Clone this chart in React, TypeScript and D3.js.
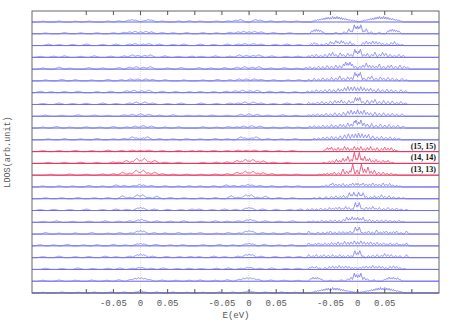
import React from 'react';
import * as d3 from 'd3';

const width = 460;
const height = 322;
const margin = { left: 32, right: 21, top: 11, bottom: 29 };

// three energy windows laid side by side, each centred on E = 0
const panelCentres = [0, 0.2, 0.4];
const panelRanges = [[-200, 100], [-100, 100], [-100, 150]]; // meV
const peakHalfWidth = [10, 10, 4.5]; // meV
const tickValues = [-0.05, 0, 0.05];
const tickLabels = ['-0.05', '0', '0.05'];

const highlightRows = [11, 12, 13];
const highlightLabels = ['(15, 15)', '(14, 14)', '(13, 13)'];

// peaks per row (top row first): [E in meV, LDOS]
const panel1Peaks = [
  [[-180, 0.8], [-150, 1], [-120, 0.8], [-95, 1], [-60, 1], [-40, 1.2], [-22, 2], [-16, 2.5], [-10, 2], [8, 1.5], [14, 2.5], [20, 2], [40, 1], [70, 1], [90, 1.2]],
  [[-175, 0.8], [-140, 1.2], [-110, 1], [-80, 1], [-50, 1], [-30, 1.5], [-20, 2], [-10, 2.5], [0, 2], [10, 2.5], [20, 2], [40, 1.2], [60, 1], [85, 1.2]],
  [[-170, 1.5], [-150, 1], [-125, 1.2], [-100, 1.5], [-70, 1.2], [-45, 1.5], [-20, 1.5], [-10, 2], [5, 1.5], [15, 2], [35, 1.5], [60, 1.2], [80, 1.5]],
  [[-185, 1], [-160, 1.2], [-140, 1.5], [-110, 1], [-85, 1.5], [-55, 1.2], [-30, 1.5], [-15, 2.5], [-5, 2], [8, 2], [18, 2.5], [45, 1.5], [70, 1], [95, 1.2]],
  [[-180, 1.2], [-150, 2], [-130, 1], [-95, 1.5], [-70, 1.2], [-40, 1.5], [-20, 2], [-8, 2.5], [6, 2], [18, 2.5], [50, 1.2], [75, 1.5]],
  [[-175, 1], [-145, 1.5], [-120, 1.2], [-90, 1], [-60, 1.5], [-35, 1.2], [-18, 2], [-5, 2], [10, 2], [22, 1.5], [45, 1.2], [80, 1]],
  [[-185, 1.5], [-165, 1], [-140, 1.2], [-115, 1.5], [-80, 1], [-55, 1.5], [-25, 2], [-12, 2.5], [2, 2], [15, 2.5], [40, 1.5], [65, 1.2], [90, 1]],
  [[-180, 1], [-150, 1.5], [-125, 1], [-100, 1.2], [-70, 1.5], [-45, 1], [-20, 1.5], [-8, 2.5], [8, 2.5], [22, 1.5], [50, 1], [75, 1.5]],
  [[-175, 1.2], [-145, 1], [-115, 1.5], [-85, 1.2], [-60, 1], [-30, 1.5], [-15, 2], [0, 2.5], [15, 2], [35, 1.2], [60, 1.5], [88, 1]],
  [[-180, 1], [-155, 1.5], [-130, 1], [-100, 1.2], [-75, 1], [-50, 1.5], [-25, 1.2], [-10, 2], [5, 2.5], [20, 2], [45, 1], [70, 1.2]],
  [[-170, 1], [-140, 1.2], [-110, 1], [-80, 1.5], [-50, 1], [-30, 1.5], [-15, 3], [-8, 2], [5, 2], [13, 3], [35, 1.2], [60, 1], [85, 1.2]],
  [[-180, 1], [-150, 1], [-120, 1.2], [-90, 1], [-60, 1.5], [-35, 1.2], [-15, 1.5], [0, 1.2], [15, 1.5], [40, 1], [70, 1.2], [95, 1]],
  [[-170, 1], [-140, 1], [-110, 1.2], [-80, 1], [-50, 1.5], [-40, 1.2], [-26, 3], [-15, 2], [-7, 5], [0, 3], [7, 5], [15, 2], [26, 3], [45, 1.2], [70, 1]],
  [[-165, 1], [-130, 1.2], [-100, 1], [-70, 1.2], [-50, 1.5], [-33, 3], [-20, 2], [-8, 5], [-1, 3], [5, 5], [14, 2.5], [26, 3], [40, 1.5], [60, 1], [85, 1]],
  [[-180, 1], [-150, 1.2], [-125, 1], [-95, 1.5], [-70, 1], [-45, 2], [-30, 1.5], [-12, 1.5], [-2, 2.5], [5, 2], [20, 1.5], [45, 1.2], [70, 1], [90, 1.2]],
  [[-175, 1], [-145, 1], [-115, 1.2], [-85, 1], [-60, 1.2], [-33, 3], [-20, 1.5], [-6, 4], [-1, 3], [4, 4], [15, 1.5], [30, 2.5], [55, 1.2], [80, 1]],
  [[-185, 1], [-160, 1.2], [-130, 1], [-100, 1.5], [-70, 1], [-45, 1.5], [-25, 1.2], [-5, 2.5], [0, 3], [5, 2.5], [25, 1.5], [50, 1.2], [75, 1], [95, 1.5]],
  [[-180, 1], [-155, 1.5], [-125, 1], [-95, 1.2], [-65, 1.5], [-40, 1.2], [-20, 1.5], [-4, 2.5], [2, 3], [8, 2], [30, 1.5], [55, 1.2], [80, 1.5]],
  [[-175, 1.5], [-150, 1], [-120, 1.2], [-90, 1.5], [-60, 1], [-38, 1.5], [-18, 1.2], [-6, 3], [0, 3.5], [6, 3], [25, 1.5], [45, 1.2], [70, 1.5], [92, 1]],
  [[-185, 1.2], [-160, 1], [-135, 1.5], [-105, 1], [-80, 1.2], [-50, 1.5], [-28, 1], [-6, 2], [0, 2.5], [6, 2], [28, 1.5], [55, 1], [78, 1.2]],
  [[-180, 1], [-150, 1.5], [-120, 1], [-95, 1.2], [-65, 1.5], [-45, 1], [-20, 1.5], [-6, 3], [0, 3.5], [6, 3], [22, 1.5], [48, 1.2], [72, 1], [92, 1.2]],
  [[-175, 1.2], [-145, 1], [-115, 1.5], [-88, 1], [-60, 1.2], [-38, 1.5], [-15, 1.2], [-3, 2], [3, 2], [20, 1.2], [42, 1.5], [68, 1], [90, 1.2]],
  [[-180, 1], [-150, 1.2], [-120, 1], [-90, 1.2], [-62, 1], [-40, 1.5], [-18, 2], [-10, 3], [-4, 3.5], [2, 3.5], [8, 3], [16, 2], [40, 1.2], [65, 1], [90, 1]],
  [[-180, 0.8], [-145, 1], [-115, 0.8], [-85, 1], [-55, 1], [-30, 1], [-8, 1], [0, 2.5], [8, 1], [30, 1], [60, 1], [85, 0.8]],
];

const panel2Peaks = [
  [[-90, 1], [-60, 1], [-38, 1.2], [-24, 2], [-16, 2.5], [12, 2.5], [20, 2], [40, 1.2], [65, 1], [88, 1]],
  [[-85, 1.2], [-60, 1], [-35, 1.5], [-20, 2], [-10, 2.5], [0, 2], [10, 2.5], [22, 2], [45, 1.2], [75, 1]],
  [[-90, 1.5], [-65, 1.2], [-40, 1.5], [-20, 1.5], [-8, 2], [8, 2], [22, 1.5], [48, 1.2], [70, 1.5], [92, 1]],
  [[-88, 1], [-62, 1.5], [-35, 1.2], [-18, 2.5], [-5, 2], [8, 2], [18, 2.5], [42, 1.5], [68, 1], [90, 1.2]],
  [[-92, 1.5], [-70, 1.2], [-45, 1.5], [-22, 2], [-8, 2.5], [6, 2], [18, 2.5], [40, 1.2], [65, 1.5], [88, 1]],
  [[-85, 1], [-58, 1.5], [-35, 1.2], [-18, 2], [-5, 2], [10, 2], [22, 1.5], [45, 1.2], [72, 1], [92, 1.2]],
  [[-90, 1.2], [-65, 1], [-42, 1.5], [-25, 2], [-12, 2.5], [2, 2], [15, 2.5], [38, 1.5], [60, 1.2], [85, 1]],
  [[-88, 1.5], [-60, 1], [-35, 1.5], [-20, 1.5], [-8, 2.5], [8, 2.5], [22, 1.5], [45, 1], [70, 1.5], [92, 1]],
  [[-92, 1], [-68, 1.2], [-40, 1], [-15, 2], [0, 2.5], [15, 2], [35, 1.2], [62, 1.5], [86, 1]],
  [[-85, 1.2], [-60, 1], [-38, 1.5], [-22, 1.2], [-10, 2], [5, 2.5], [20, 2], [45, 1], [70, 1.2], [90, 1]],
  [[-90, 1], [-62, 1.2], [-40, 1], [-15, 3], [-8, 2], [5, 2], [13, 3], [35, 1.2], [60, 1], [85, 1.2]],
  [[-90, 1], [-65, 1.2], [-40, 1], [-20, 1.5], [-5, 1.2], [10, 1.5], [30, 1.2], [55, 1], [80, 1.2]],
  [[-85, 1], [-60, 1.2], [-40, 1.5], [-22, 3], [-14, 2], [-7, 4], [0, 2.5], [7, 4], [16, 2], [26, 2.5], [45, 1.2], [70, 1]],
  [[-88, 1], [-62, 1.2], [-40, 1.5], [-22, 3], [-14, 2], [-7, 4], [0, 2.5], [7, 4], [16, 2], [26, 2.5], [42, 1.5], [65, 1], [88, 1]],
  [[-90, 1], [-65, 1.2], [-42, 2], [-28, 1.5], [-12, 1.5], [-2, 2.5], [5, 2], [20, 1.5], [42, 1.2], [68, 1], [90, 1.2]],
  [[-88, 1], [-62, 1.2], [-33, 3], [-20, 1.5], [-6, 4], [-1, 3], [4, 4], [15, 1.5], [30, 2.5], [55, 1.2], [80, 1]],
  [[-92, 1.5], [-68, 1], [-45, 1.5], [-25, 1.2], [-5, 2.5], [0, 3], [5, 2.5], [25, 1.5], [50, 1.2], [75, 1], [95, 1.5]],
  [[-88, 1], [-62, 1.5], [-40, 1.2], [-20, 1.5], [-4, 2.5], [2, 3], [8, 2], [30, 1.5], [55, 1.2], [80, 1.5]],
  [[-90, 1.5], [-60, 1], [-38, 1.5], [-18, 1.2], [-6, 3], [0, 3.5], [6, 3], [25, 1.5], [45, 1.2], [70, 1.5], [92, 1]],
  [[-85, 1.2], [-55, 1.5], [-30, 1], [-6, 2], [0, 2.5], [6, 2], [28, 1.5], [55, 1], [78, 1.2]],
  [[-92, 1], [-65, 1.5], [-45, 1], [-20, 1.5], [-6, 3], [0, 3.5], [6, 3], [22, 1.5], [48, 1.2], [72, 1], [92, 1.2]],
  [[-88, 1], [-60, 1.2], [-38, 1.5], [-15, 1.2], [-3, 2], [3, 2], [20, 1.2], [42, 1.5], [68, 1], [90, 1.2]],
  [[-90, 1.2], [-62, 1], [-40, 1.5], [-18, 2], [-10, 3], [-4, 3.5], [2, 3.5], [8, 3], [16, 2], [40, 1.2], [65, 1], [90, 1]],
  [[-85, 0.8], [-55, 1], [-30, 1], [-8, 1], [0, 2.5], [8, 1], [30, 1], [60, 1], [85, 0.8]],
];

const panel3Peaks = [
  [[-82, 1], [-78, 2], [-74, 2.5], [-70, 3], [-66, 3.5], [-62, 4], [-58, 4.5], [-54, 5], [-50, 4.5], [-46, 5.5], [-42, 5], [-38, 5.5], [-34, 5], [-30, 4.5], [-26, 4], [-22, 3.5], [-18, 3], [-14, 2.5], [-10, 2], [-6, 1.5], [-2, 1],
    [8, 1], [12, 2], [16, 2.5], [20, 3], [24, 3.5], [28, 4], [32, 4.5], [36, 5], [40, 5.5], [44, 5], [48, 5.5], [52, 5], [56, 4.5], [60, 4], [64, 3.5], [68, 3], [72, 2.5], [76, 2], [80, 1]],
  [[-84, 3], [-80, 4], [-76, 4.5], [-72, 4], [-68, 3.5], [-64, 2], [-40, 1.5], [-25, 2], [-16, 5], [-12, 3], [-6, 9], [-3, 7], [0, 7.5], [3, 7], [6, 9], [12, 3], [16, 5], [25, 2], [40, 1.5], [56, 3], [60, 4], [64, 4.5], [68, 4], [72, 3.5], [76, 3]],
  [[-85, 2], [-80, 3], [-75, 2], [-66, 1.5], [-58, 2.5], [-50, 4], [-46, 3], [-40, 5], [-36, 4], [-30, 5], [-26, 4], [-20, 3], [-14, 4], [-8, 2], [10, 3], [16, 4.5], [22, 3.5], [28, 4.5], [34, 4], [40, 3.5], [46, 2.5], [54, 2], [62, 3], [68, 4], [74, 2], [82, 1]],
  [[-90, 1.5], [-84, 2.5], [-76, 3], [-68, 2], [-60, 3], [-52, 4], [-46, 5], [-40, 3], [-32, 4.5], [-26, 3], [-18, 4], [-12, 3], [-5, 8], [-2, 6], [2, 6], [5, 8], [12, 3], [18, 4], [26, 3], [32, 5], [40, 3], [46, 5], [52, 4], [60, 3], [68, 2], [76, 3], [84, 2]],
  [[-95, 2], [-88, 2.5], [-80, 2], [-72, 3], [-64, 2.5], [-56, 3.5], [-48, 3], [-40, 4], [-33, 3.5], [-26, 5], [-22, 7], [-18, 6], [-14, 7], [-10, 5], [-4, 3], [4, 3], [10, 4], [16, 6], [22, 4], [28, 3.5], [34, 3], [40, 5], [48, 3], [56, 3.5], [62, 4], [70, 3], [78, 4], [86, 3], [92, 2]],
  [[-90, 1.5], [-80, 2.5], [-72, 2], [-64, 3], [-56, 2.5], [-48, 3.5], [-40, 3], [-33, 5], [-26, 3], [-18, 4], [-12, 3.5], [-5, 8.5], [-2, 7], [2, 7], [5, 8.5], [12, 3], [20, 4], [26, 5], [34, 3], [42, 4], [48, 3], [56, 3.5], [64, 3], [72, 2], [82, 2.5], [90, 1]],
  [[-92, 1.5], [-84, 2], [-76, 3], [-68, 2.5], [-60, 3], [-52, 3.5], [-44, 3], [-36, 4], [-30, 3.5], [-24, 5], [-18, 6], [-12, 5.5], [-6, 6], [0, 5], [6, 6], [12, 5], [18, 4], [24, 4.5], [30, 3], [38, 4], [46, 3], [54, 3.5], [62, 3], [70, 2.5], [80, 3], [88, 2]],
  [[-90, 2], [-82, 1.5], [-74, 2.5], [-66, 3], [-58, 2.5], [-50, 3.5], [-42, 4], [-36, 3.5], [-30, 4.5], [-24, 3], [-16, 4], [-10, 3], [-4, 7], [0, 6], [4, 7], [10, 3], [18, 4.5], [26, 4], [32, 5], [40, 3], [48, 4], [56, 3], [64, 3.5], [72, 2], [80, 3], [88, 1.5]],
  [[-90, 1.5], [-82, 2], [-74, 2.5], [-66, 2], [-58, 3], [-50, 2.5], [-42, 3.5], [-34, 3], [-26, 4], [-18, 5], [-12, 6], [-6, 5], [0, 6.5], [6, 5], [12, 6], [18, 4], [24, 3.5], [32, 4], [40, 3], [48, 3.5], [56, 2.5], [64, 3], [72, 2], [82, 2.5]],
  [[-88, 2], [-80, 2.5], [-72, 2], [-64, 3], [-56, 2.5], [-48, 3.5], [-40, 3], [-32, 4], [-26, 3.5], [-18, 5], [-12, 4], [-6, 7], [-3, 8], [2, 6], [6, 8], [12, 5], [18, 4], [26, 4.5], [34, 3], [42, 4], [50, 3], [58, 3.5], [66, 2.5], [74, 3], [84, 2]],
  [[-80, 1.5], [-72, 2], [-64, 2.5], [-56, 3], [-48, 3.5], [-40, 3], [-32, 4], [-24, 5], [-17, 6], [-10, 5.5], [-4, 6], [2, 6.5], [8, 6], [14, 5], [20, 5.5], [28, 4], [36, 3], [44, 3.5], [52, 2.5], [60, 3], [68, 2], [76, 1.5]],
  [[-60, 2], [-56, 4], [-52, 3.5], [-48, 4.5], [-42, 3], [-36, 4], [-30, 3], [-24, 5], [-18, 4], [-12, 3], [-6, 5], [0, 4], [6, 5], [12, 3], [18, 4], [24, 5], [30, 3], [36, 4], [44, 3], [50, 4.5], [56, 3.5], [62, 4], [68, 2], [72, 1]],
  [[-62, 1], [-52, 2], [-46, 2.5], [-39, 4], [-33, 3], [-27, 5], [-22, 4], [-18, 7], [-12, 4], [-6, 11], [-1.5, 5], [3, 11], [8, 5], [13, 7], [18, 4], [22, 5], [28, 3], [34, 4], [40, 2.5], [47, 3], [52, 2], [56, 3], [64, 1]],
  [[-70, 1], [-62, 1.5], [-56, 2], [-49, 2], [-43, 3], [-35, 2.5], [-27, 6], [-20, 4], [-14, 4.5], [-9, 11], [-1, 5], [7, 11], [13, 6], [19, 8], [25, 4], [31, 5], [39, 3], [47, 3], [54, 2], [62, 2], [70, 1]],
  [[-66, 1], [-58, 2], [-50, 3], [-46, 4], [-40, 3], [-34, 3], [-27, 3.5], [-20, 2.5], [-14, 3], [-9, 4], [-3, 3.5], [1, 3.5], [6, 3], [10, 4], [16, 3], [22, 3], [28, 4], [34, 3], [40, 3], [47, 4], [53, 3], [59, 3.5], [65, 2], [72, 1.5], [78, 1]],
  [[-80, 1], [-70, 1.5], [-58, 2], [-48, 2.5], [-40, 3], [-32, 2.5], [-26, 3.5], [-20, 2], [-15, 6], [-11, 4], [-7, 6.5], [-3, 4], [2, 6.5], [6, 4], [10, 6], [16, 2.5], [24, 2], [31, 3], [38, 2.5], [44, 4], [50, 2.5], [58, 3], [66, 2], [76, 1.5], [84, 1]],
  [[-92, 1.5], [-84, 2], [-76, 1.5], [-68, 2.5], [-60, 2], [-52, 3], [-46, 2.5], [-40, 3], [-34, 3.5], [-28, 2.5], [-22, 4], [-16, 3], [-10, 2], [-4, 8], [0, 5], [3, 8], [9, 2.5], [16, 3.5], [22, 3], [28, 4], [34, 2.5], [40, 3], [48, 2], [56, 3], [64, 2], [72, 2.5], [80, 1.5], [90, 1]],
  [[-90, 1], [-82, 1.5], [-74, 1], [-66, 2], [-58, 1.5], [-50, 2], [-42, 2.5], [-34, 2], [-26, 3], [-20, 5], [-15, 4], [-10, 5.5], [-5, 4.5], [0, 5], [5, 4], [10, 5], [16, 2.5], [22, 3], [28, 2], [36, 2.5], [44, 2], [52, 2.5], [60, 2], [68, 1.5], [76, 2], [84, 1]],
  [[-90, 3], [-84, 1], [-73, 2], [-64, 1.5], [-56, 2], [-50, 3], [-42, 2], [-34, 2.5], [-27, 2.5], [-20, 2], [-14, 3], [-8, 2], [-4, 7], [0, 5], [3, 7], [8, 2], [14, 2], [20, 3], [27, 2], [35, 4], [42, 2], [48, 2.5], [53, 3], [60, 2], [66, 2.5], [72, 3], [80, 1.5], [90, 3]],
  [[-90, 3], [-84, 1.5], [-78, 2.5], [-72, 3], [-66, 2], [-60, 3], [-54, 2.5], [-48, 3.5], [-42, 3], [-36, 4], [-30, 3], [-24, 4.5], [-18, 3.5], [-12, 4], [-6, 5], [0, 4], [6, 5], [12, 4], [18, 3.5], [24, 4], [30, 3], [36, 3.5], [42, 2.5], [48, 3], [54, 2], [60, 3], [66, 2], [72, 3], [78, 1.5], [84, 2], [90, 3]],
  [[-90, 3], [-82, 2], [-76, 3], [-68, 2], [-62, 3], [-54, 2.5], [-46, 3], [-40, 2], [-33, 3], [-26, 2], [-18, 2.5], [-12, 2], [-5, 7], [0, 5], [4, 7], [10, 2], [20, 2], [28, 2.5], [36, 3], [44, 2.5], [50, 4], [56, 3], [62, 3], [70, 2], [78, 2], [90, 3]],
  [[-88, 2], [-84, 3], [-80, 2.5], [-76, 3], [-70, 1.5], [-60, 2], [-52, 3], [-46, 3.5], [-40, 3], [-34, 4], [-28, 3], [-22, 3.5], [-16, 3], [-10, 2], [-4, 2.5], [4, 2.5], [10, 3], [16, 3.5], [22, 3], [28, 4], [34, 3], [40, 3.5], [46, 3], [52, 2], [60, 3], [66, 3.5], [72, 3], [78, 2], [86, 1]],
  [[-86, 3], [-82, 4], [-78, 3.5], [-74, 4], [-70, 3], [-66, 2], [-50, 1], [-30, 1.5], [-18, 2.5], [-12, 4], [-6, 8], [-2, 6.5], [2, 6.5], [6, 8], [12, 4], [18, 2.5], [30, 1.5], [50, 2], [54, 3], [58, 4], [62, 3.5], [66, 4], [70, 3], [74, 3.5], [78, 2]],
  [[-82, 1], [-78, 2], [-74, 2.5], [-70, 3], [-66, 3.5], [-62, 4], [-58, 4.5], [-54, 5], [-50, 4.5], [-46, 5.5], [-42, 5], [-38, 5], [-34, 4.5], [-30, 4], [-26, 3.5], [-22, 3], [-18, 2.5], [-14, 2], [-10, 1.5], [-6, 1], [0, 2],
    [6, 1], [10, 1.5], [14, 2], [18, 2.5], [22, 3], [26, 3.5], [30, 4], [34, 4.5], [38, 5], [42, 5.5], [46, 5], [50, 5.5], [54, 5], [58, 4.5], [62, 4], [66, 3.5], [70, 3], [74, 2.5], [78, 2], [82, 1]],
];

const panels = [panel1Peaks, panel2Peaks, panel3Peaks];

// upper envelope of narrow triangular peaks, sampled every 0.5 meV
function peakCurve(peaks: number[][], lo: number, hi: number, w: number) {
  const pts: [number, number][] = [];
  for (let e = lo; e <= hi; e += 0.5) {
    let v = 0;
    for (const [p, h] of peaks) {
      const t = h * (1 - Math.abs(e - p) / w);
      if (t > v) v = t;
    }
    pts.push([e, v]);
  }
  return pts;
}

const App = () => {
  const nRows = panel3Peaks.length;
  const x = d3.scaleLinear().domain([-0.2, 0.55]).range([margin.left, width - margin.right]);
  const row = d3.scaleLinear().domain([0, nRows - 1]).range([22, height - margin.bottom]);
  const h = d3.scaleLinear().domain([0, 10]).range([0, 10]);
  const bottom = height - margin.bottom;

  const tickMarks = d3.range(-0.1, 0.5001, 0.05);

  const rowColours = (r: number) =>
    highlightRows.includes(r)
      ? { base: '#e4224a', curve: '#e84068' }
      : { base: '#6464ee', curve: '#7c7cf0' };

  return (
    <svg width={width} height={height} style={{ position: 'absolute', left: 0, top: 0, background: '#fff' }}>
      {panelCentres.map((c) => (
        <line key={c} x1={x(c)} x2={x(c)} y1={margin.top} y2={bottom} stroke="#d8d8d8" strokeWidth={0.8} strokeDasharray="1,1" />
      ))}

      {d3.range(nRows).map((r) => {
        const col = rowColours(r);
        const y0 = row(r);
        return (
          <g key={r}>
            <line x1={margin.left} x2={width - margin.right} y1={y0} y2={y0} stroke={col.base} strokeWidth={1} />
            {panels.map((pk, p) => {
              const [lo, hi] = panelRanges[p];
              const pts = peakCurve(pk[r], lo, hi, peakHalfWidth[p]);
              const line = d3
                .line<[number, number]>()
                .x((d) => x(panelCentres[p] + d[0] / 1000))
                .y((d) => y0 - h(d[1]));
              return <path key={p} d={line(pts) || ''} fill="none" stroke={col.curve} strokeWidth={0.9} />;
            })}
          </g>
        );
      })}

      <rect x={margin.left} y={margin.top} width={width - margin.left - margin.right} height={bottom - margin.top} fill="none" stroke="#666" strokeWidth={1} />

      {tickMarks.map((t) => (
        <g key={t}>
          <line x1={x(t)} x2={x(t)} y1={bottom} y2={bottom - 4} stroke="#555" />
          <line x1={x(t)} x2={x(t)} y1={margin.top} y2={margin.top + 4} stroke="#555" />
        </g>
      ))}

      {panelCentres.map((c) =>
        tickValues.map((t, i) => (
          <text key={`${c}-${t}`} x={x(c + t)} y={306} textAnchor="middle" fontFamily="Liberation Mono, monospace" fontSize={9} fill="#555">
            {tickLabels[i]}
          </text>
        ))
      )}

      <text x={236} y={318} textAnchor="middle" fontFamily="Liberation Mono, monospace" fontSize={9} fill="#555">E(eV)</text>
      <text transform="translate(10,152) rotate(-90)" textAnchor="middle" fontFamily="Liberation Mono, monospace" fontSize={8.5} fill="#555">LDOS(arb.unit)</text>

      {highlightRows.map((r, i) => (
        <text key={r} x={436} y={row(r) - 3} textAnchor="end" fontFamily="Liberation Serif, serif" fontWeight="bold" fontSize={8} fill="#111">
          {highlightLabels[i]}
        </text>
      ))}
    </svg>
  );
};

export default App;
